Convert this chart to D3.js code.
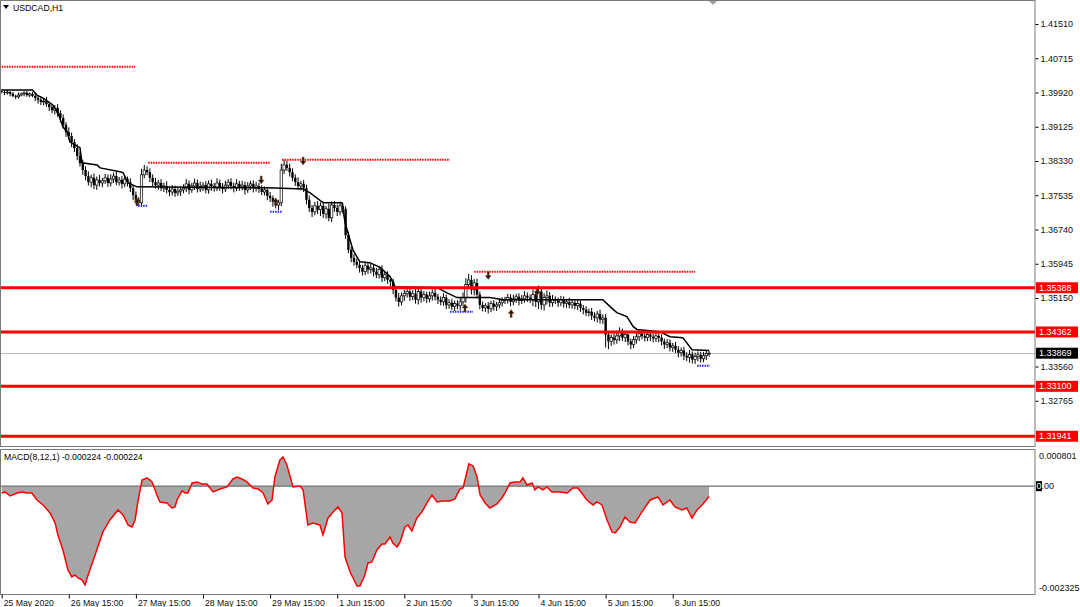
<!DOCTYPE html>
<html><head><meta charset="utf-8">
<script src="https://cdn.jsdelivr.net/npm/d3@7"></script>
<style>body{margin:0;background:#fff}svg{display:block}</style>
</head><body><svg id="c" width="1080" height="607"></svg>
<script>
const symbolTitle = "USDCAD,H1";
const macdTitle = "MACD(8,12,1) -0.000224 -0.000224";
const firstOpen = 1.3995;
const closes = [
1.3993,1.3991,1.3993,1.3989,1.3984,1.3982,1.3986,1.3989,1.3991,1.3986,1.3989,1.3984,
1.3979,1.3975,1.3970,1.3972,1.3965,1.3958,1.3951,1.3956,1.3944,
1.3933,1.3917,1.3900,
1.3891,1.3877,1.3863,1.3845,1.3828,1.3812,
1.3798,1.3784,1.3794,1.3777,1.3789,1.3782,
1.3787,1.3794,1.3782,1.3791,1.3798,1.3784,1.3789,1.3780,1.3791,1.3784,
1.3770,1.3754,1.3743,1.3736,
1.3801,1.3812,1.3807,
1.3794,1.3784,1.3777,1.3782,1.3770,1.3775,1.3766,1.3761,1.3768,1.3759,1.3763,1.3766,
1.3770,1.3780,1.3766,1.3775,1.3782,1.3768,1.3773,1.3777,1.3766,1.3780,
1.3775,1.3770,1.3782,1.3773,1.3768,1.3777,1.3784,1.3775,1.3770,1.3780,
1.3773,1.3777,1.3766,1.3775,1.3780,1.3770,1.3775,1.3768,
1.3761,1.3766,1.3752,1.3747,1.3738,1.3731,1.3736,
1.3812,1.3824,1.3817,1.3807,
1.3794,1.3784,1.3775,1.3780,1.3770,
1.3743,1.3724,1.3715,1.3729,
1.3720,1.3729,1.3710,1.3722,1.3701,1.3731,1.3724,1.3715,1.3729,1.3722,
1.3661,1.3627,1.3608,1.3599,
1.3592,1.3585,1.3576,1.3590,1.3581,1.3585,
1.3576,1.3569,1.3581,1.3562,1.3569,1.3557,1.3553,
1.3534,1.3516,1.3506,1.3520,1.3525,1.3530,
1.3518,1.3525,1.3511,1.3530,1.3516,1.3523,1.3513,1.3520,1.3527,1.3518,1.3511,
1.3506,1.3516,1.3499,1.3504,1.3495,1.3502,1.3497,1.3506,
1.3516,1.3546,1.3557,1.3534,1.3550,1.3523,
1.3499,1.3492,1.3497,1.3490,1.3502,1.3495,1.3499,1.3504,1.3509,
1.3511,1.3516,1.3506,1.3513,1.3518,1.3509,1.3513,1.3520,1.3516,1.3511,
1.3523,1.3506,1.3530,1.3499,1.3516,1.3520,1.3504,1.3511,
1.3509,1.3504,1.3511,1.3502,1.3506,1.3499,1.3504,1.3497,1.3502,1.3492,
1.3488,1.3481,1.3483,1.3474,1.3469,1.3478,1.3465,1.3469,
1.3430,1.3414,1.3423,
1.3418,1.3427,1.3437,1.3423,1.3430,1.3414,1.3407,1.3418,
1.3425,1.3432,1.3427,1.3423,1.3430,1.3425,1.3421,1.3427,1.3423,
1.3414,1.3407,1.3411,1.3400,1.3404,1.3395,1.3388,1.3393,1.3381,1.3377,1.3384,
1.3372,1.3379,1.3383,1.3374,1.3381,1.3386,1.3387];
// wick lengths in pips (0.0001)
const wickUpPips = [
4,3,5,2,4,3,6,3,4,5, 3,4,9,6,8,7,10,6,8,7, 9,7,8,6,11,8,7,9,10,8, 9,11,7,10,8,12,7,9,8,11,
8,10,7,9,8,6,9,7,8,6, 14,12,9,9,8,10,7,9,8,11, 7,9,8,10,7,9,11,8,7,10, 8,12,7,9,8,10,7,11,8,9,
10,7,9,8,11,7,10,8,9,7, 8,10,7,9,8,7,9,6,8,7, 15,12,10,10,9,8,11,7,9,8, 10,7,9,11,8,10,7,12,8,9,
8,10,7,6,8,7,9,8,10,7, 9,8,11,7,9,8,10,7,8,9, 7,9,11,8,10,7,9,8,11,7, 9,8,7,10,8,9,7,8,10,7,
8,9,7,8,10,12,15,14,11,9, 10,7,8,6,9,7,8,7,9,8, 7,9,8,10,7,8,9,11,8,7, 12,9,14,11,10,13,9,11,8,7,
9,8,7,10,8,7,9,8,7,8, 7,9,8,7,10,8,9,7,8,11, 8,10,7,9,8,7,9,8,10,7, 8,7,9,8,7,9,8,7,9,8,
7,9,8,7,9,8,10,7,9,8, 7,9,8,5];
const wickDnPips = [
3,5,4,6,3,5,4,3,6,4, 5,3,7,9,7,8,6,9,7,10, 8,10,9,11,8,12,9,10,8,11, 10,8,12,9,11,8,10,7,9,8,
9,7,8,11,8,10,9,12,10,8, 9,8,7,10,9,8,11,7,9,8, 10,8,9,7,11,8,9,10,7,9, 8,7,10,8,9,11,8,7,9,10,
7,9,8,10,7,9,8,11,7,9, 10,8,9,7,8,10,9,11,8,12, 8,9,7,10,8,9,8,10,9,11, 9,12,8,10,15,9,11,8,10,9,
10,8,11,9,8,10,9,8,11,9, 8,10,9,11,8,9,10,8,9,11, 10,9,11,8,12,9,10,8,9,11, 12,9,10,8,11,9,10,8,9,10,
9,8,10,8,11,9,12,10,11,13, 9,10,8,9,11,8,9,10,8,9, 8,9,10,8,9,11,8,9,10,8, 15,12,17,11,13,16,10,9,8,10,
8,9,10,8,9,8,10,9,11,8, 9,10,8,11,9,10,30,18,10,11, 9,12,8,10,9,11,8,9,10,8, 9,8,10,9,8,11,9,10,8,9,
10,8,11,9,10,8,12,9,10,11, 9,8,10,7];
const trailBars = [0,11,12.6,14.8,18.3,20.1,21.9,23.4,24.4,28,28.7,34.1,35.2,42.3,43.4,45.2,48.4,95,107.8,110.3,115,121.7,122.8,125.6,128.1,131.7,135.3,138.9,140.7,155.7,159.3,162.8,174.6,179.3,215,217.6,220,223.6,225.8,227.2,235.4,239,243.6,246.9,253];
const trailPrices = [1.3998,1.3998,1.3986,1.3979,1.3963,1.3945,1.3912,1.3901,1.3877,1.3864,1.3829,1.3824,1.3817,1.3808,1.3806,1.3782,1.3773,1.3771,1.3768,1.3759,1.3736,1.3736,1.3690,1.3627,1.3599,1.3597,1.3586,1.3565,1.3541,1.3539,1.3527,1.3516,1.3516,1.3511,1.3511,1.3495,1.3481,1.3472,1.3449,1.3442,1.3437,1.3425,1.3423,1.3395,1.3393];
const levelPrices = [1.35388, 1.34362, 1.33100, 1.31941];
const lastPrice = 1.33869;
const priceTicks = [1.41510,1.40715,1.39920,1.39125,1.38330,1.37535,1.36740,1.35945,1.35150,1.33560,1.32765];
const resPrices = [1.4052, 1.3829, 1.3836, 1.3576];
const resFrom = [0, 52.4, 100.3, 169];
const resTo = [47.7, 96, 160.3, 248];
const supPrices = [1.3729, 1.3715, 1.3483, 1.3358];
const supFrom = [48.8, 96, 160.3, 248.7];
const supTo = [52, 100.3, 168.6, 253.3];
const upArrowBars = [48.4, 98, 165.7, 182.2];
const upArrowPrices = [1.3738, 1.3738, 1.3492, 1.3479];
const downArrowBars = [92.8, 107.8, 174, 191.5];
const downArrowPrices = [1.3789, 1.3833, 1.3567, 1.3530];
const macdBars = [0,1.2,3,5.5,7.3,9,10.8,12.6,14.8,17.3,19.1,20.1,21.9,23.7,25.1,26.2,27.3,28.7,29.8,30.9,33.4,36.2,38.7,41.6,43.4,45.2,46.6,47.7,48.7,50.2,52,53.8,55.5,56.6,59.1,60.9,62,62.7,64.5,65.6,66.6,68.1,69.9,71.6,73.4,75.6,78.1,80.6,82.7,84.2,85.9,87.7,89.9,91.7,93.5,95.2,96.7,97.7,99.5,100.6,102,104.2,106.7,107.8,109.5,111.3,113.8,114.9,116.7,118.5,120.3,121.7,122.8,124.6,127.1,128.1,129.9,131,132.4,134.2,136,137.1,138.9,139.9,141.4,142.5,144.2,145.3,146.7,148.5,150.3,152.1,153.9,155.7,157.5,160.3,162.1,163.9,165,166.4,167.1,168.6,170,171.1,172.9,174.6,177.1,178.9,180,181.8,183.6,185.4,186.4,187.9,189.7,190.7,191.8,193.6,195,196.8,199.7,202.2,204.3,206.1,209.3,211.5,212.9,214.7,216.5,218.3,219.4,221.1,222.9,224.7,226.5,229,231.9,234.7,236.5,239,240.8,243.3,245,246.9,248.7,250.8,253];
// MACD values in millionths
const macdMicro = [-147,-125,-211,-147,-125,-147,-147,-298,-405,-578,-793,-1052,-1376,-1807,-1958,-1915,-1979,-2022,-2130,-1915,-1484,-987,-729,-513,-621,-837,-880,-729,-341,134,177,91,-190,-341,-362,-470,-448,-298,-103,-147,-147,69,91,47,47,-125,-60,-17,155,198,155,91,-39,-60,-147,-384,-298,198,565,630,457,-17,4,-82,-837,-793,-837,-1052,-686,-556,-448,-578,-1527,-1850,-2152,-2152,-1915,-1656,-1634,-1376,-1246,-1246,-1095,-1225,-1311,-1203,-880,-837,-966,-686,-556,-362,-190,-341,-319,-319,-276,-60,-39,306,479,436,198,-190,-362,-470,-384,-254,-147,69,91,91,177,26,69,-82,-17,-82,-17,-125,-125,-147,-39,-39,-298,-405,-341,-405,-729,-987,-1009,-880,-664,-772,-793,-556,-298,-233,-405,-298,-448,-513,-470,-686,-513,-384,-224];
const macdMax = 0.000801, macdMin = -0.002325;
const timeBars = [0,24,48,72,96,120,144,168,192,216,240];
const timeLabels = ["25 May 2020","26 May 15:00","27 May 15:00","28 May 15:00","29 May 15:00","1 Jun 15:00","2 Jun 15:00","3 Jun 15:00","4 Jun 15:00","5 Jun 15:00","8 Jun 15:00"];

// ---- layout ----
const W = 1080, H = 607, PR = 1035, MT = 0.5, MB = 446.5, ST = 449.5, SB = 594.5;
const FONT = "'Liberation Sans', Arial, sans-serif";
const svg = d3.select("#c");
const x = d3.scaleLinear().domain([0, 253]).range([1.7, 1.7 + 2.796 * 253]);
const y = d3.scaleLinear().domain([1.31715, 1.42044]).range([446, 1]);
const ym = d3.scaleLinear().domain([macdMin, macdMax]).range([594, 449]);

const defs = svg.append("defs");
defs.append("clipPath").attr("id", "cm").append("rect").attr("x", 0).attr("y", MT).attr("width", PR).attr("height", MB - MT);
defs.append("clipPath").attr("id", "cs").append("rect").attr("x", 0).attr("y", ST).attr("width", PR).attr("height", SB - ST);

svg.append("rect").attr("width", W).attr("height", H).attr("fill", "#fff");

const gm = svg.append("g").attr("clip-path", "url(#cm)");
gm.append("line").attr("x1", 0).attr("x2", PR).attr("y1", Math.round(y(lastPrice)) + 0.5).attr("y2", Math.round(y(lastPrice)) + 0.5)
  .attr("stroke", "#c0c0c0").attr("stroke-width", 1);

// candles
const candles = closes.map((c, i) => {
  const o = i === 0 ? firstOpen : closes[i - 1];
  return { i, o, c, h: Math.max(o, c) + wickUpPips[i] * 0.0001, l: Math.min(o, c) - wickDnPips[i] * 0.0001 };
});
const gc = gm.append("g");
gc.selectAll("line.w").data(candles).join("line").attr("class", "w")
  .attr("x1", d => x(d.i)).attr("x2", d => x(d.i)).attr("y1", d => y(d.h)).attr("y2", d => y(d.l))
  .attr("stroke", "#000").attr("stroke-width", 1);
gc.selectAll("rect.b").data(candles).join("rect").attr("class", "b")
  .attr("x", d => x(d.i) - 1.2).attr("width", 2.4)
  .attr("y", d => y(Math.max(d.o, d.c))).attr("height", d => Math.max(0.8, Math.abs(y(d.o) - y(d.c))))
  .attr("fill", d => d.c >= d.o ? "#fff" : "#000").attr("stroke", "#000").attr("stroke-width", d => d.c >= d.o ? 0.7 : 0);

// trailing line
gm.append("path").datum(trailBars.map((b, k) => [b, trailPrices[k]]))
  .attr("d", d3.line().x(d => x(d[0])).y(d => y(d[1])))
  .attr("fill", "none").attr("stroke", "#000").attr("stroke-width", 1.5);

resPrices.forEach((p, k) => {
  gm.append("line").attr("x1", x(resFrom[k])).attr("x2", x(resTo[k])).attr("y1", y(p)).attr("y2", y(p))
    .attr("stroke", "#ff0000").attr("stroke-width", 2).attr("stroke-dasharray", "1.5,1");
});
supPrices.forEach((p, k) => {
  gm.append("line").attr("x1", x(supFrom[k])).attr("x2", x(supTo[k])).attr("y1", y(p)).attr("y2", y(p))
    .attr("stroke", "#2020ff").attr("stroke-width", 2).attr("stroke-dasharray", "1.5,1");
});
const upPath = "M0,-4 L3,0 L1,0 L1,4 L-1,4 L-1,0 L-3,0 Z";
upArrowBars.forEach((b, k) => {
  gm.append("path").attr("d", upPath).attr("transform", `translate(${x(b)},${y(upArrowPrices[k])})`)
    .attr("fill", "#1a1a1a").attr("stroke", "#b06020").attr("stroke-width", 0.5);
});
downArrowBars.forEach((b, k) => {
  gm.append("path").attr("d", upPath).attr("transform", `translate(${x(b)},${y(downArrowPrices[k])}) rotate(180)`)
    .attr("fill", "#1a1a1a").attr("stroke", "#b06020").attr("stroke-width", 0.5);
});
levelPrices.forEach(p => {
  gm.append("line").attr("x1", 0).attr("x2", PR).attr("y1", y(p)).attr("y2", y(p)).attr("stroke", "#ff0000").attr("stroke-width", 3);
});

// MACD pane
const gs = svg.append("g").attr("clip-path", "url(#cs)");
const md = macdBars.map((b, k) => [b, macdMicro[k] / 1e6]);
gs.append("path").datum(md).attr("d", d3.area().x(d => x(d[0])).y0(ym(0)).y1(d => ym(d[1])))
  .attr("fill", "#a6a6a6");
gs.append("line").attr("x1", 0).attr("x2", PR).attr("y1", ym(0)).attr("y2", ym(0)).attr("stroke", "#707070").attr("stroke-width", 1.3);
gs.append("path").datum(md).attr("d", d3.line().x(d => x(d[0])).y(d => ym(d[1])))
  .attr("fill", "none").attr("stroke", "#ff0000").attr("stroke-width", 1.5);

// frames
svg.append("rect").attr("x", 0.5).attr("y", MT).attr("width", PR - 0.5).attr("height", MB - MT).attr("fill", "none").attr("stroke", "#7a7a7a").attr("stroke-width", 1);
svg.append("rect").attr("x", 0.5).attr("y", ST).attr("width", PR - 0.5).attr("height", SB - ST).attr("fill", "none").attr("stroke", "#7a7a7a").attr("stroke-width", 1);

// price axis
const pa = svg.append("g").attr("transform", `translate(${PR + 0.5},0)`)
  .call(d3.axisRight(y).tickValues(priceTicks).tickFormat(d3.format(".5f")).tickSize(3).tickPadding(2));
pa.select(".domain").remove();
pa.selectAll("line").attr("stroke", "#000");
pa.selectAll("text").attr("font-family", FONT).attr("font-size", "9px").attr("fill", "#111");

function tag(p, label, bg) {
  const yy = y(p);
  svg.append("rect").attr("x", PR + 1).attr("y", yy - 5.5).attr("width", 42).attr("height", 11).attr("fill", bg);
  svg.append("text").attr("x", PR + 4).attr("y", yy).attr("dy", "0.35em").attr("font-family", FONT).attr("font-size", "9px").attr("fill", "#fff").text(label);
}
levelPrices.forEach(p => tag(p, d3.format(".5f")(p), "#ff0000"));
tag(lastPrice, d3.format(".5f")(lastPrice), "#000");

const mtxt = (v, dy, t) => svg.append("text").attr("x", PR + 4).attr("y", ym(v) + dy).attr("dy", "0.35em")
  .attr("font-family", FONT).attr("font-size", "9px").attr("fill", "#111").text(t);
mtxt(macdMax, 7, d3.format(".6f")(macdMax));
mtxt(macdMin, -6, d3.format(".6f")(macdMin).replace("−", "-"));
svg.append("rect").attr("x", PR + 1).attr("y", ym(0) - 5).attr("width", 6).attr("height", 10).attr("fill", "#000");
const z = svg.append("text").attr("x", PR + 1.5).attr("y", ym(0)).attr("dy", "0.35em").attr("font-family", FONT).attr("font-size", "9px").attr("fill", "#111");
z.append("tspan").attr("fill", "#fff").text("0");
z.append("tspan").text(".00");

const ta = svg.append("g").attr("transform", `translate(0,${SB})`)
  .call(d3.axisBottom(x).tickValues(timeBars).tickFormat((d, k) => timeLabels[k]).tickSize(4).tickPadding(0));
ta.select(".domain").remove();
ta.selectAll("line").attr("stroke", "#000");
ta.selectAll("text").attr("text-anchor", "start").attr("dx", "1.5").attr("y", 8).attr("dy", "0.35em")
  .attr("font-family", FONT).attr("font-size", "8.7px").attr("fill", "#111");

svg.append("path").attr("d", "M3,5 L9,5 L6,9 Z").attr("fill", "#000");
svg.append("text").attr("x", 13).attr("y", 8).attr("dy", "0.35em").attr("font-family", FONT).attr("font-size", "8.7px").attr("fill", "#000").text(symbolTitle);
svg.append("text").attr("x", 4).attr("y", 457).attr("dy", "0.35em").attr("font-family", FONT).attr("font-size", "8.7px").attr("fill", "#000").text(macdTitle);
svg.append("path").attr("d", "M709,1 L717,1 L713,5 Z").attr("fill", "#a0a0a0");
</script></body></html>
